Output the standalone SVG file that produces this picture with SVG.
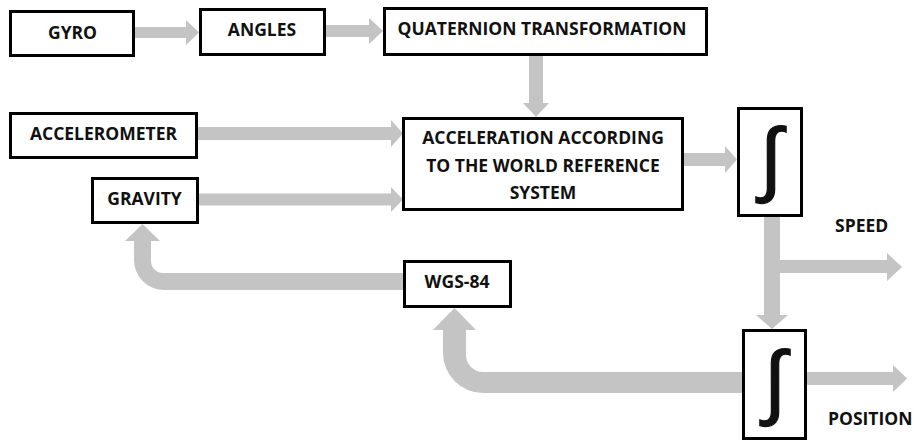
<svg xmlns="http://www.w3.org/2000/svg" width="914" height="441" viewBox="0 0 914 441">
<style>
.box{fill:#fff;stroke:#000;stroke-width:3}
.t{font-family:"Open Sans","Liberation Sans",sans-serif;font-weight:bold;font-size:17.5px;fill:#111;text-anchor:middle}
.tl{font-family:"Open Sans","Liberation Sans",sans-serif;font-weight:bold;font-size:17.5px;fill:#111}
.int{font-family:"Liberation Sans",sans-serif;font-size:82px;fill:#111;stroke:#111;stroke-width:1.2;text-anchor:middle}
.arr{fill:#c4c4c4}
</style>
<rect width="914" height="441" fill="#fff"/>
<g id="connectors">
<polygon class="arr" points="135,27 186,27 186,20 199,32.5 186,45 186,38 135,38"/>
<polygon class="arr" points="326,25 369,25 369,18 383,31 369,44 369,37 326,37"/>
<polygon class="arr" points="198,127 391,127 391,120 403,133.5 391,147 391,140 198,140"/>
<polygon class="arr" points="199,193.5 391,193.5 391,187 403,199.5 391,212 391,205.5 199,205.5"/>
<polygon class="arr" points="529,56 543,56 543,103 549,103 536,117 523,103 529,103"/>
<polygon class="arr" points="684,153 725,153 725,146 737,159.5 725,173 725,166 684,166"/>
<polygon class="arr" points="764,217 780,217 780,260 887,260 887,253 902,267 887,281 887,273 780,273 780,315 788,315 772,329 756,315 764,315"/>
<polygon class="arr" points="807,372 893,372 893,365 907,378.5 893,392 893,385 807,385"/>
<path class="arr" d="M742,372 L483,372 A17,17 0 0 1 466,355 L466,330 L476,330 L454.5,308 L433,330 L443,330 L443,353 A40,40 0 0 0 483,393 L742,393 Z"/>
<path class="arr" d="M403,273 L163,273 A12,12 0 0 1 151,261 L151,241 L160,241 L142.5,224 L125,241 L134,241 L134,260 A30,30 0 0 0 164,290 L403,290 Z"/>
</g>
<g id="gyro"><rect class="box" x="10.5" y="11.5" width="123" height="44"/><text class="t" x="72.5" y="39">GYRO</text></g>
<g id="angles"><rect class="box" x="200.5" y="9.5" width="124" height="45"/><text class="t" x="262" y="36">ANGLES</text></g>
<g id="quaternion"><rect class="box" x="384.5" y="8.5" width="322" height="46"/><text class="t" x="542" y="35">QUATERNION TRANSFORMATION</text></g>
<g id="accelerometer"><rect class="box" x="10.5" y="113.5" width="186" height="44"/><text class="t" x="103.5" y="140">ACCELEROMETER</text></g>
<g id="gravity"><rect class="box" x="92.5" y="178.5" width="105" height="44"/><text class="t" x="144.5" y="205">GRAVITY</text></g>
<g id="acceleration"><rect class="box" x="403.5" y="118.5" width="279" height="91"/>
<text class="t" x="543" y="144">ACCELERATION ACCORDING</text>
<text class="t" x="543" y="172">TO THE WORLD REFERENCE</text>
<text class="t" x="543" y="199">SYSTEM</text></g>
<g id="integrator1"><rect class="box" x="738.5" y="108.5" width="63" height="107"/><text class="int" x="771" y="186">∫</text></g>
<g id="wgs84"><rect class="box" x="404.5" y="261.5" width="106" height="45"/><text class="t" x="457" y="288">WGS-84</text></g>
<g id="integrator2"><rect class="box" x="743.5" y="330.5" width="62" height="108"/><text class="int" x="775" y="409">∫</text></g>
<g id="speed"><text class="tl" x="835" y="232">SPEED</text></g>
<g id="position"><text class="tl" x="828" y="425">POSITION</text></g>
</svg>
